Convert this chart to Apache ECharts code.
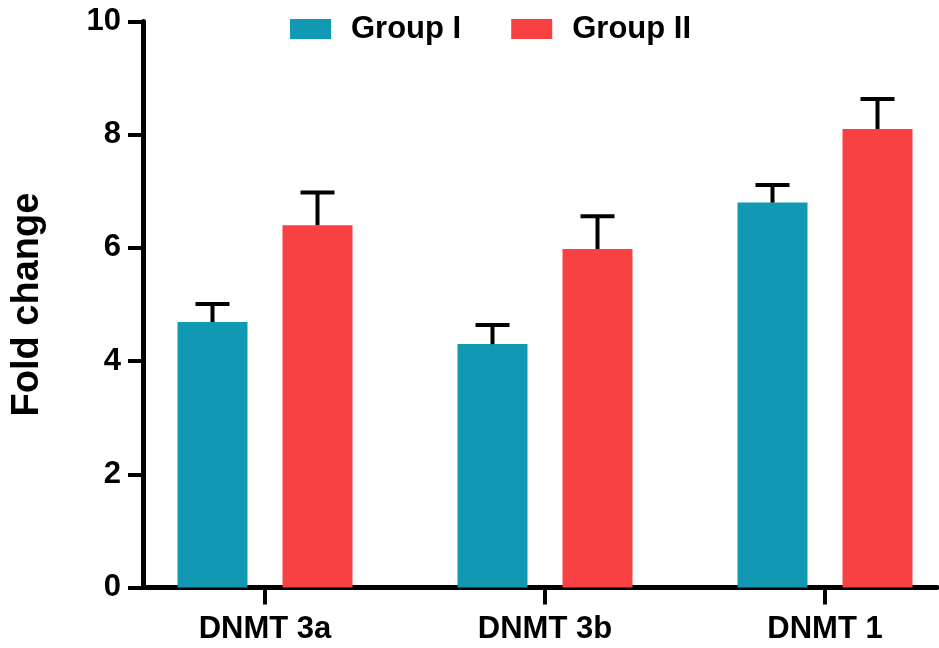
<!DOCTYPE html>
<html>
<head>
<meta charset="utf-8">
<script src="https://cdn.jsdelivr.net/npm/echarts@6/dist/echarts.min.js"></script>
<style>
  html, body { margin: 0; padding: 0; background: #fff; }
  #chart { width: 939px; height: 648px; }
</style>
</head>
<body>
<div id="chart"></div>
<script>
const categories = ["DNMT 3a", "DNMT 3b", "DNMT 1"];
const groupI = [4.69, 4.30, 6.80];
const groupIErr = [0.32, 0.34, 0.31];
const groupII = [6.40, 5.98, 8.10];
const groupIIErr = [0.58, 0.58, 0.53];
const yTicks = [0, 2, 4, 6, 8, 10];

const font = "'Liberation Sans', Arial, sans-serif";
const teal = "#1199B3";
const red = "#F84142";

const pos = categories.map((_, i) => i);

function errorSeries(values, errs, dx) {
  return {
    type: "custom",
    z: 5,
    clip: false,
    data: values.map((v, i) => [pos[i], v, errs[i]]),
    renderItem(params, api) {
      const base = api.coord([api.value(0), api.value(1)]);
      const tip = api.coord([api.value(0), api.value(1) + api.value(2)]);
      const x = base[0] + dx;
      const style = { stroke: "#000", lineWidth: 4 };
      return {
        type: "group",
        children: [
          { type: "line", shape: { x1: x, y1: base[1], x2: x, y2: tip[1] }, style },
          { type: "line", shape: { x1: x - 17, y1: tip[1], x2: x + 17, y2: tip[1] }, style },
        ],
      };
    },
  };
}

const chart = echarts.init(document.getElementById("chart"));
chart.setOption({
  animation: false,
  legend: {
    data: ["Group I", "Group II"],
    left: 285,
    top: 8,
    icon: "rect",
    itemWidth: 41,
    itemHeight: 20,
    itemGap: 50,
    textStyle: {
      fontFamily: font,
      fontWeight: "bold",
      fontSize: 31,
      lineHeight: 32,
      color: "#000",
      padding: [0, 0, 0, 15],
    },
  },
  grid: { left: 143, right: 2, top: 21.5, bottom: 60.5 },
  xAxis: {
    type: "value",
    min: -0.4357,
    max: 2.4,
    splitLine: { show: false },
    axisLine: { onZero: false, lineStyle: { color: "#000", width: 5 } },
    axisTick: { customValues: pos, length: 17, lineStyle: { color: "#000", width: 4 } },
    axisLabel: {
      customValues: pos,
      formatter: (v) => categories[Math.round(v)],
      margin: 26,
      fontFamily: font,
      fontWeight: "bold",
      fontSize: 31,
      color: "#000",
    },
  },
  yAxis: {
    type: "value",
    min: yTicks[0],
    max: yTicks[yTicks.length - 1],
    interval: 2,
    name: "Fold change",
    nameLocation: "middle",
    nameRotate: 90,
    nameGap: 96,
    nameTextStyle: { fontFamily: font, fontWeight: "bold", fontSize: 38, color: "#000" },
    splitLine: { show: false },
    axisLine: { show: true, onZero: false, lineStyle: { color: "#000", width: 5 } },
    axisTick: { show: true, length: 15, lineStyle: { color: "#000", width: 4 } },
    axisLabel: {
      margin: 22,
      fontFamily: font,
      fontWeight: "bold",
      fontSize: 31,
      color: "#000",
    },
  },
  series: [
    {
      name: "Group I",
      type: "bar",
      barWidth: 70,
      barGap: "50%",
      itemStyle: { color: teal },
      data: groupI.map((v, i) => [pos[i], v]),
    },
    {
      name: "Group II",
      type: "bar",
      barWidth: 70,
      barGap: "50%",
      itemStyle: { color: red },
      data: groupII.map((v, i) => [pos[i], v]),
    },
    errorSeries(groupI, groupIErr, -52.5),
    errorSeries(groupII, groupIIErr, 52.5),
  ],
});
window.addEventListener("resize", () => chart.resize());
</script>
</body>
</html>
